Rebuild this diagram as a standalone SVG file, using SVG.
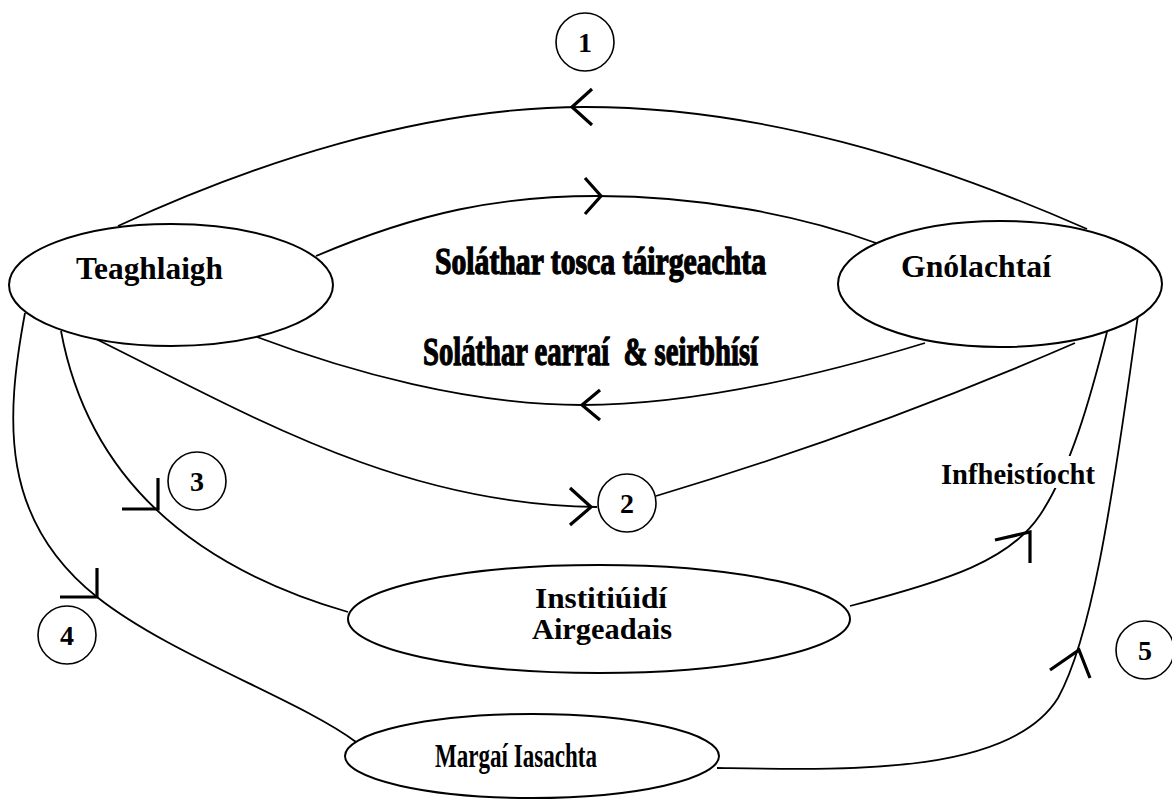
<svg xmlns="http://www.w3.org/2000/svg" width="1172" height="800" viewBox="0 0 1172 800">
<style>
.node{fill:#fff;stroke:#000;stroke-width:2}
.lbl{font-family:"Liberation Serif","Times New Roman",serif;font-weight:bold;fill:#000}
.num{font-family:"Liberation Serif","Times New Roman",serif;font-weight:bold;font-size:28px;fill:#000;text-anchor:middle}
.wa{font-family:"Liberation Serif","Times New Roman",serif;font-weight:bold;fill:#000;stroke:#000;stroke-width:1.3}
.con{fill:none;stroke:#000;stroke-width:1.8}
.ah{fill:none;stroke:#000;stroke-width:3.2}
.circ{fill:#fff;stroke:#000;stroke-width:1.6}
</style>
<rect width="1172" height="800" fill="#fff"/>
<g id="connectors">
<path class="con" d="M118 226 C250 165 420 107 585 107 C760 107 930 160 1087 229"/>
<path class="ah" d="M592 89 L572 107 L592 125"/>
<path class="con" d="M316 256 C420 212 500 196 597 196 C700 196 800 215 876 243"/>
<path class="ah" d="M585 178 L601 196 L585 214"/>
<path class="con" d="M925 343 C830 372 700 405 582 405 C470 405 350 372 257 337"/>
<path class="ah" d="M600 390 L582 405 L600 420"/>
<path class="con" d="M92 337 C250 415 400 505 597 507"/>
<path class="ah" d="M570 488 L591 507 L570 525"/>
<path class="con" d="M656 496 Q870 432 1075 343"/>
<path class="con" d="M61 331 Q100 540 348 612"/>
<path class="ah" d="M158 478 L158 509 L122 509"/>
<path class="con" d="M25 313 C5 420 0 520 97 597 C170 655 300 700 356 742"/>
<path class="ah" d="M97 568 L97 597 L60 597"/>
<path class="con" d="M850 606 C950 580 1010 560 1040 515 S1090 400 1107 332"/>
<path class="ah" d="M995 540 L1030 532 L1030 563"/>
<path class="con" d="M717 768 C850 770 1010 775 1058 698 C1090 640 1110 520 1138 315"/>
<path class="ah" d="M1050 670 L1079 650 L1090 678"/>
</g>
<g id="label-infheistiocht">
<rect x="938" y="456" width="160" height="32" fill="#fff"/>
<text class="lbl" x="941" y="484" font-size="29" textLength="154" lengthAdjust="spacingAndGlyphs">Infheistíocht</text>
</g>
<g id="node-teaghlaigh">
<ellipse class="node" cx="171" cy="285" rx="162" ry="61"/>
<text class="lbl" x="76" y="279" font-size="31" textLength="147" lengthAdjust="spacingAndGlyphs">Teaghlaigh</text>
</g>
<g id="node-gnolachtai">
<ellipse class="node" cx="1000" cy="284" rx="162" ry="63"/>
<text class="lbl" x="901" y="277" font-size="31" textLength="150" lengthAdjust="spacingAndGlyphs">Gnólachtaí</text>
</g>
<g id="node-institiuidi">
<ellipse class="node" cx="599" cy="619" rx="251" ry="54"/>
<text class="lbl" x="535" y="608" font-size="30" textLength="132" lengthAdjust="spacingAndGlyphs">Institiúidí</text>
<text class="lbl" x="532" y="639" font-size="30" textLength="140" lengthAdjust="spacingAndGlyphs">Airgeadais</text>
</g>
<g id="node-margai">
<ellipse class="node" cx="532" cy="756" rx="187" ry="42"/>
<text class="lbl" x="435" y="767" font-size="34" textLength="162" lengthAdjust="spacingAndGlyphs">Margaí Iasachta</text>
</g>
<g id="label-tosca">
<text class="wa" x="435" y="274" font-size="38" textLength="331" lengthAdjust="spacingAndGlyphs">Soláthar tosca táirgeachta</text>
</g>
<g id="label-earrai">
<text class="wa" x="423" y="365" font-size="40" xml:space="preserve" textLength="335" lengthAdjust="spacingAndGlyphs">Soláthar earraí  &amp; seirbhísí</text>
</g>
<g id="badge-1"><circle class="circ" cx="585" cy="42" r="29"/><text class="num" x="585" y="52">1</text></g>
<g id="badge-2"><circle class="circ" cx="627" cy="503" r="29"/><text class="num" x="627" y="513">2</text></g>
<g id="badge-3"><circle class="circ" cx="197" cy="481" r="29"/><text class="num" x="197" y="491">3</text></g>
<g id="badge-4"><circle class="circ" cx="67" cy="635" r="29"/><text class="num" x="67" y="645">4</text></g>
<g id="badge-5"><circle class="circ" cx="1145" cy="650" r="29"/><text class="num" x="1145" y="660">5</text></g>
</svg>
